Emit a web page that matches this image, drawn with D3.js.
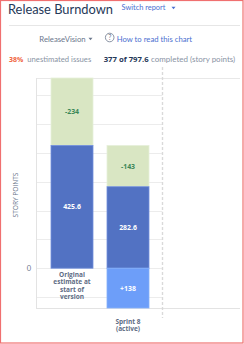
<!DOCTYPE html>
<html>
<head>
<meta charset="utf-8">
<script src="https://cdn.jsdelivr.net/npm/d3@7"></script>
<style>
  body { margin: 0; background: #fff; }
  svg { display: block; font-family: Lato, "Open Sans", sans-serif; }
  .b { font-family: "Open Sans", "Noto Sans", sans-serif; font-weight: bold; }
</style>
</head>
<body>
<svg width="244" height="344"></svg>
<script>
// chart values
const categories = ["Original estimate at start of version", "Sprint 8 (active)"]
const categoryLines = [["Original", "estimate at", "start of", "version"], ["Sprint 8", "(active)"]]
const remaining = [425.6, 282.6]     // dark blue, estimated work
const removed = [234, 143]           // green, completed / removed
const added = [0, 138]               // light blue, scope added
const yTicks = [-100, 0, 100, 200, 300, 400, 500, 600]

const svg = d3.select("svg")
const width = +svg.attr("width")
const height = +svg.attr("height")

// shrink/grow a text so it spans the width seen in the screenshot
const fit = (sel, w) => {
  const fs = +sel.attr("font-size")
  const len = sel.node().getComputedTextLength()
  sel.attr("font-size", (fs * w) / len)
  return sel
}

const caret = (cx, cy, color) =>
  svg.append("path")
    .attr("d", `M${cx - 2},${cy - 1.2}L${cx + 2},${cy - 1.2}L${cx},${cy + 1.3}Z`)
    .attr("fill", color)

// outer red frame
svg.append("rect")
  .attr("x", 0.5).attr("y", 0.5)
  .attr("width", width - 1.5).attr("height", height - 1.5)
  .attr("fill", "none").attr("stroke", "#f07070").attr("stroke-width", 1.2)

// header
fit(svg.append("text").attr("x", 8).attr("y", 13.5)
  .attr("font-size", 16).attr("fill", "#253858")
  .text("Release Burndown"), 105)
fit(svg.append("text").attr("x", 121.5).attr("y", 10)
  .attr("font-size", 9).attr("fill", "#4a6fd0")
  .text("Switch report"), 44)
caret(173.5, 8, "#4a6fd0")

svg.append("line").attr("x1", 9).attr("x2", 240).attr("y1", 25.5).attr("y2", 25.5)
  .attr("stroke", "#e6e6e6")

fit(svg.append("text").attr("x", 39.3).attr("y", 41.5)
  .attr("font-size", 8.5).attr("fill", "#6b778c")
  .text("ReleaseVision"), 46.5)
caret(90.5, 39, "#6b778c")
svg.append("circle").attr("cx", 109.7).attr("cy", 37.5).attr("r", 4.3)
  .attr("fill", "none").attr("stroke", "#6b778c").attr("stroke-width", 0.8)
svg.append("text").attr("x", 109.7).attr("y", 40).attr("text-anchor", "middle")
  .attr("font-size", 7).attr("fill", "#6b778c").text("?")
fit(svg.append("text").attr("x", 116.7).attr("y", 41.5)
  .attr("font-size", 8.5).attr("fill", "#4a6fd0")
  .text("How to read this chart"), 75.6)

fit(svg.append("text").attr("class", "b").attr("x", 9).attr("y", 61.5).attr("font-size", 8.5)
  .attr("fill", "#f0643c").text("38%"), 14.3)
fit(svg.append("text").attr("x", 27.3).attr("y", 61.5).attr("font-size", 8.5)
  .attr("fill", "#8993a4").text("unestimated issues"), 64)
fit(svg.append("text").attr("class", "b").attr("x", 103.7).attr("y", 61.5).attr("font-size", 8.5)
  .attr("fill", "#253858").text("377 of 797.6"), 45)
fit(svg.append("text").attr("x", 151).attr("y", 61.5).attr("font-size", 8.5)
  .attr("fill", "#8993a4").text("completed (story points)"), 84.3)

// chart area
const plot = { left: 36, right: 240, top: 78, bottom: 308 }
const gridRight = 162.5

const y = d3.scaleLinear()
  .domain([-d3.max(added), d3.max(remaining.map((c, i) => c + removed[i]))])
  .range([plot.bottom, plot.top])

const x = d3.scaleBand()
  .domain(categories)
  .range([51, 149])
  .paddingInner(0.25)
  .paddingOuter(0)

// gridlines
svg.append("g")
  .selectAll("line")
  .data(yTicks)
  .join("line")
  .attr("x1", plot.left).attr("x2", gridRight)
  .attr("y1", (d) => Math.round(y(d)) + 0.5).attr("y2", (d) => Math.round(y(d)) + 0.5)
  .attr("stroke", "#ececec")

// frame lines
svg.append("line").attr("x1", plot.left).attr("x2", plot.right)
  .attr("y1", plot.top + 0.5).attr("y2", plot.top + 0.5).attr("stroke", "#e8e8e8")
svg.append("line").attr("x1", plot.left).attr("x2", plot.right)
  .attr("y1", plot.bottom + 0.5).attr("y2", plot.bottom + 0.5).attr("stroke", "#e3e3e3")
svg.append("line").attr("x1", plot.left + 0.5).attr("x2", plot.left + 0.5)
  .attr("y1", plot.top).attr("y2", plot.bottom).attr("stroke", "#e3e3e3")

// dashed divider (sprint boundary)
svg.append("line").attr("x1", gridRight).attr("x2", gridRight)
  .attr("y1", 67).attr("y2", 318)
  .attr("stroke", "#dadada").attr("stroke-width", 1.4).attr("stroke-dasharray", "3,2")

// y axis: only zero labelled
svg.append("text").attr("x", 31).attr("y", y(0) + 2.5)
  .attr("text-anchor", "end").attr("font-size", 7.5).attr("fill", "#6b778c").text("0")
fit(svg.append("text")
  .attr("transform", "translate(17.8,195) rotate(-90)")
  .attr("text-anchor", "middle").attr("font-size", 7).attr("fill", "#6b778c")
  .attr("font-family", "Open Sans")
  .text("STORY POINTS"), 45)

// bars
const bars = svg.append("g")
const valueLabel = (cx, cy, txt, color) =>
  bars.append("text").attr("class", "b")
    .attr("x", cx).attr("y", cy + 2.5)
    .attr("text-anchor", "middle").attr("font-size", 6.9)
    .attr("fill", color).text(txt)

categories.forEach((c, i) => {
  const x0 = x(c)
  const bw = x.bandwidth()
  const top = y(remaining[i] + removed[i])
  // removed / done (green, on top)
  bars.append("rect")
    .attr("x", x0).attr("width", bw)
    .attr("y", top).attr("height", y(remaining[i]) - top)
    .attr("fill", "#d9e6c3").attr("stroke", "#e6efda").attr("stroke-width", 0.8)
  valueLabel(x0 + bw / 2, (y(remaining[i]) + top) / 2, "-" + removed[i], "#3a8757")
  // remaining (dark blue)
  bars.append("rect")
    .attr("x", x0).attr("width", bw)
    .attr("y", y(remaining[i])).attr("height", y(0) - y(remaining[i]))
    .attr("fill", "#5272c3").attr("stroke", "#7290dc").attr("stroke-width", 0.8)
  valueLabel(x0 + bw / 2, (y(remaining[i]) + y(0)) / 2, remaining[i], "#fff")
  // added scope (light blue, below zero)
  if (added[i] > 0) {
    bars.append("rect")
      .attr("x", x0).attr("width", bw)
      .attr("y", y(0)).attr("height", y(-added[i]) - y(0))
      .attr("fill", "#6d9ef9").attr("stroke", "#86b0fb").attr("stroke-width", 0.8)
    valueLabel(x0 + bw / 2, (y(0) + y(-added[i])) / 2, "+" + added[i], "#fff")
  }
})

// category labels
const labelY = [276.5, 323.5]
categories.forEach((c, i) => {
  const lab = svg.append("text").attr("class", "b").attr("text-anchor", "middle")
    .attr("font-size", 6.5).attr("fill", "#5e6c84")
  if (i === 1) lab.attr("font-weight", "600")
  categoryLines[i].forEach((t, k) => {
    lab.append("tspan").attr("x", x(c) + x.bandwidth() / 2)
      .attr("y", labelY[i] + k * 7.5).text(t)
  })
})
</script>
</body>
</html>
